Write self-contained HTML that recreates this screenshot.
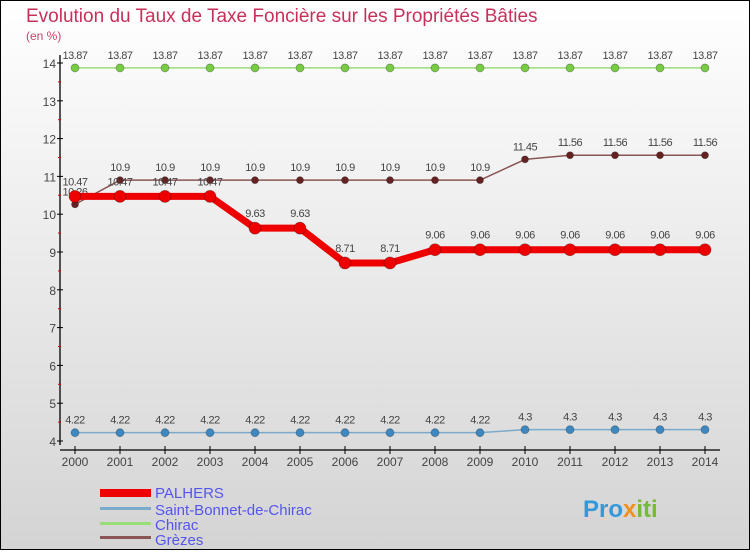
<!DOCTYPE html>
<html><head><meta charset="utf-8"><style>
html,body{margin:0;padding:0}
body{width:750px;height:550px;overflow:hidden;font-family:"Liberation Sans",sans-serif}
svg text{font-family:"Liberation Sans",sans-serif}
</style></head><body>
<svg id="c" width="750" height="550" xmlns="http://www.w3.org/2000/svg">
<defs><linearGradient id="bg" x1="0" y1="0" x2="0" y2="1"><stop offset="0" stop-color="#ffffff"/><stop offset="1" stop-color="#d4d4d4"/></linearGradient></defs>
<rect x="0.5" y="0.5" width="749" height="549" fill="url(#bg)" stroke="#000"/>
<text x="26" y="22" font-size="19" fill="#c8305a">Evolution du Taux de Taxe Foncière sur les Propriétés Bâties</text>
<text x="26" y="40" font-size="12" fill="#c8406a">(en %)</text>
<g id="axes"></g><g id="series"></g>
<g>
<rect x="100" y="489" width="51" height="8" fill="#e00"/>
<text x="155" y="498" font-size="15" fill="#5555ee">PALHERS</text>
<rect x="100" y="507" width="51" height="3" fill="#7aaacc"/>
<text x="155" y="515" font-size="15" fill="#5555ee">Saint-Bonnet-de-Chirac</text>
<rect x="100" y="522" width="51" height="3" fill="#99dd77"/>
<text x="155" y="530" font-size="15" fill="#5555ee">Chirac</text>
<rect x="100" y="536" width="51" height="3" fill="#8a5555"/>
<text x="155" y="545" font-size="15" fill="#5555ee">Grèzes</text>
</g>
<text x="583" y="517" font-size="24" font-weight="bold" fill="#3399dd">Pro<tspan fill="#f09020">x</tspan><tspan fill="#77bb33">iti</tspan></text>
</svg>
<script>
const years=[2000,2001,2002,2003,2004,2005,2006,2007,2008,2009,2010,2011,2012,2013,2014];
const yTicks=[4,5,6,7,8,9,10,11,12,13,14];
const palhers=[10.47,10.47,10.47,10.47,9.63,9.63,8.71,8.71,9.06,9.06,9.06,9.06,9.06,9.06,9.06];
const saintBonnet=[4.22,4.22,4.22,4.22,4.22,4.22,4.22,4.22,4.22,4.22,4.3,4.3,4.3,4.3,4.3];
const chirac=[13.87,13.87,13.87,13.87,13.87,13.87,13.87,13.87,13.87,13.87,13.87,13.87,13.87,13.87,13.87];
const grezes=[10.26,10.9,10.9,10.9,10.9,10.9,10.9,10.9,10.9,10.9,11.45,11.56,11.56,11.56,11.56];
const NS="http://www.w3.org/2000/svg";
const xS=i=>75+i*45;
const yS=v=>441-(v-4)*37.8;
function mk(p,t,a){const e=document.createElementNS(NS,t);for(const k in a)e.setAttribute(k,a[k]);p.appendChild(e);return e;}
const ax=document.getElementById('axes');
const yl=mk(ax,'line',{x1:60,y1:55,x2:60,y2:445,stroke:'#000','stroke-width':1.3});


const xl=mk(ax,'line',{x1:60,y1:450,x2:720,y2:450,stroke:'#000','stroke-width':1.3});


yTicks.forEach(v=>{
  mk(ax,'line',{x1:57,y1:yS(v),x2:63,y2:yS(v),stroke:'#000'});
  if(v<14)mk(ax,'line',{x1:58,y1:yS(v+0.5),x2:61,y2:yS(v+0.5),stroke:'#d00'});
  const t=mk(ax,'text',{x:56,y:yS(v)+5,'font-size':12,fill:'#444','text-anchor':'end'});
  t.textContent=v;
  
  
});
years.forEach((y,i)=>{
  mk(ax,'line',{x1:xS(i),y1:446,x2:xS(i),y2:454,stroke:'#000'});
  const t=mk(ax,'text',{x:xS(i),y:466,'font-size':12,fill:'#444','text-anchor':'middle'});
  t.textContent=y;
  
  
});
const sg=document.getElementById('series');
function draw(vals,name,color,lw,r,dot,labelDy){
  const g=mk(sg,'g',{});
  
  
  const l=mk(g,'polyline',{points:vals.map((v,i)=>xS(i)+','+yS(v)).join(' '),fill:'none',stroke:color,'stroke-width':lw,'stroke-linejoin':'round'});
  
  
  vals.forEach((v,i)=>{
    const c=mk(g,'circle',{cx:xS(i),cy:yS(v),r:r,fill:dot,stroke:'rgba(0,0,0,0.3)','stroke-width':0.8});
    
    
    const t=mk(g,'text',{x:xS(i),y:yS(v)+labelDy,'font-size':11,fill:'#444','text-anchor':'middle','letter-spacing':'-0.5'});
    t.textContent=v;
    
    
  });
}
draw(chirac,'chirac','#99dd77',1.5,4,'#77cc44',-9);
draw(saintBonnet,'saint-bonnet','#7aaacc',1.5,4,'#3d88c0',-9);
draw(grezes,'grezes','#8a5555',1.5,3.5,'#662222',-9);
draw(palhers,'palhers','#ee0000',7,6,'#ee0000',-11);
</script>
</body></html>
